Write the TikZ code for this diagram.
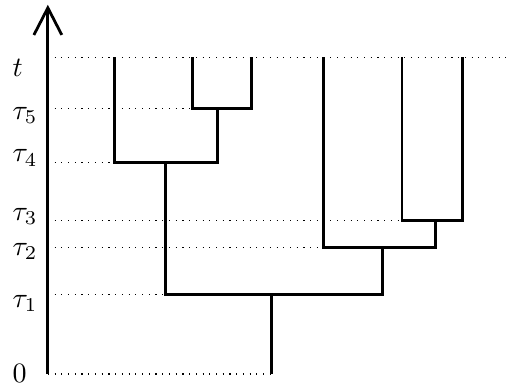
\documentclass[tikz,border=0pt]{standalone}
\usetikzlibrary{arrows.meta}

\begin{document}
\begin{tikzpicture}[
    branch/.style={line width=1pt},
    guide/.style={dotted, thin},
    lvl/.style={anchor=base west, inner sep=0pt}]
      \useasboundingbox (-0.60,-0.16) rectangle (5.77,4.69);

      % Axis and levels
      \coordinate (o) at (0,0);
      \coordinate (top) at (0,4.63);
      \coordinate (h1) at (0,1.00);
      \coordinate (h2) at (0,1.59);
      \coordinate (h3) at (0,1.92);
      \coordinate (h4) at (0,2.65);
      \coordinate (h5) at (0,3.33);
      \coordinate (ht) at (0,3.97);
      \coordinate (tend) at (5.77,3.97);

      % Leaves
      \coordinate (a) at (0.84,3.97);
      \coordinate (b) at (1.81,3.97);
      \coordinate (c) at (2.55,3.97);
      \coordinate (d) at (3.46,3.97);
      \coordinate (e) at (4.44,3.97);
      \coordinate (f) at (5.20,3.97);

      % Merges
      \coordinate (m5) at (2.13,3.33);
      \coordinate (m4) at (1.48,2.65);
      \coordinate (m3) at (4.86,1.92);
      \coordinate (m2) at (4.20,1.59);
      \coordinate (m1) at (2.80,1.00);
      \coordinate (root) at (2.80,0);

      % Labels
      \node[lvl] (lt) at (-0.45,3.73) {$t$};
      \node[lvl] (l5) at (-0.45,3.19) {$\tau_5$};
      \node[lvl] (l4) at (-0.45,2.66) {$\tau_4$};
      \node[lvl] (l3) at (-0.45,1.93) {$\tau_3$};
      \node[lvl] (l2) at (-0.45,1.49) {$\tau_2$};
      \node[lvl] (l1) at (-0.45,0.84) {$\tau_1$};
      \node[lvl] (l0) at (-0.45,-0.11) {$0$};

      % Dotted guides
      \draw[guide] (ht) -- (tend);
      \draw[guide] (h5) -- (h5 -| b);
      \draw[guide] (h4) -- (h4 -| a);
      \draw[guide] (h3) -- (h3 -| e);
      \draw[guide] (h2) -- (h2 -| d);
      \draw[guide] (h1) -- (h1 -| m4);
      \draw[guide] (o) -- (root);

      % Axis
      \draw[branch, -{Straight Barb[length=3.4mm, width=3.5mm]}] (o) -- (top);

      % Tree
      \draw[branch] (b) |- (m5) -| (c);
      \draw[branch] (a) |- (m4) -| (m5);
      \draw[branch] (e) |- (m3) -| (f);
      \draw[branch] (d) |- (m2) -| (m3);
      \draw[branch] (m4) |- (m1) -| (m2);
      \draw[branch] (m1) -- (root);
\end{tikzpicture}
\end{document}
